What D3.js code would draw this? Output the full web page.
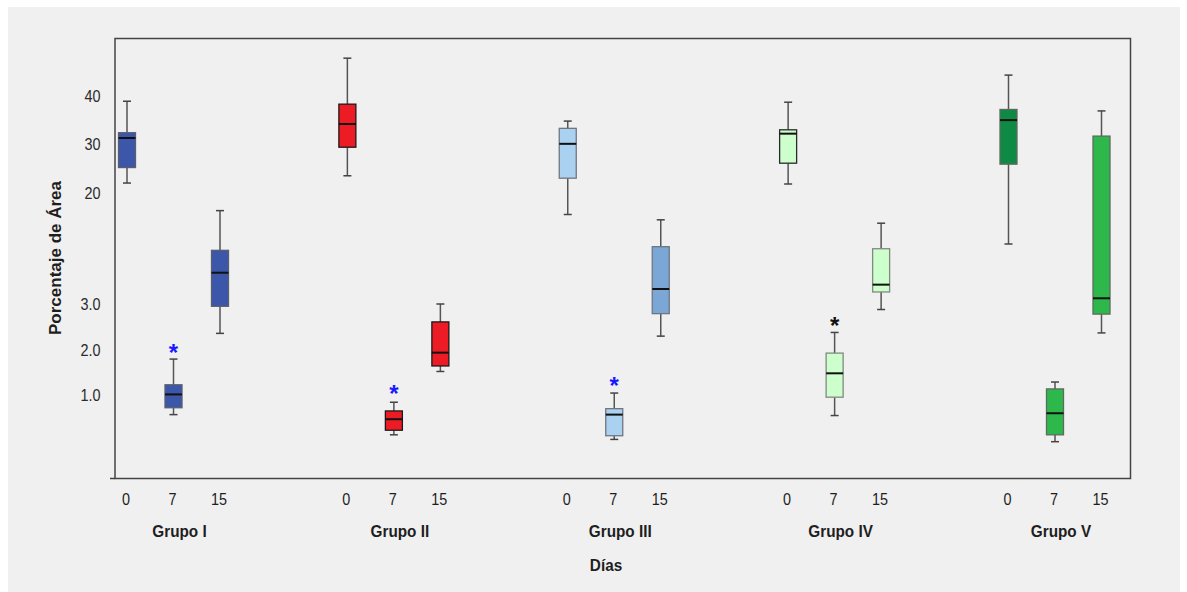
<!DOCTYPE html>
<html>
<head>
<meta charset="utf-8">
<script src="https://cdn.jsdelivr.net/npm/d3@7/dist/d3.min.js"></script>
<style>
  html, body { margin: 0; padding: 0; background: #ffffff; }
  svg { display: block; font-family: "Liberation Sans", Arial, sans-serif; }
</style>
</head>
<body>
<svg id="chart" width="1187" height="592"></svg>
<script>
// ---- data ----------------------------------------------------------
const groups = ["Grupo I", "Grupo II", "Grupo III", "Grupo IV", "Grupo V"];
const days = ["0", "7", "15"];

// one row per group, one entry per day (0, 7, 15)
const whiskerHigh = [
  [39.0, 1.80, 16.4],
  [47.9, 0.86, 3.00],
  [34.9, 1.06, 14.5],
  [38.8, 2.38, 13.8],
  [44.4, 1.30, 37.0]
];
const quartile3 = [
  [32.5, 1.24, 9.02],
  [38.4, 0.67, 2.61],
  [33.4, 0.72, 9.43],
  [33.1, 1.93, 9.20],
  [37.3, 1.15, 31.8]
];
const medians = [
  [31.4, 1.03, 6.51],
  [34.3, 0.49, 1.94],
  [30.2, 0.59, 4.68],
  [32.3, 1.49, 5.17],
  [35.1, 0.62, 3.64]
];
const quartile1 = [
  [25.3, 0.74, 2.95],
  [29.5, 0.25, 1.65],
  [23.1, 0.13, 2.79],
  [26.2, 0.97, 4.35],
  [26.0, 0.15, 2.78]
];
const whiskerLow = [
  [22.1, 0.59, 2.36],
  [23.6, 0.15, 1.53],
  [15.6, 0.05, 2.30],
  [21.9, 0.57, 2.88],
  [9.73, 0.00, 2.37]
];
// extreme values flagged with an asterisk (null = none)
const extremes = [
  [null, 2.03, null],
  [null, 1.13, null],
  [null, 1.31, null],
  [null, 2.61, null],
  [null, null, null]
];

const yTickValues = [1, 2, 3, 20, 30, 40];
const yTickLabels = ["1.0", "2.0", "3.0", "20", "30", "40"];

// ---- styles --------------------------------------------------------
const boxFill = [
  ["#3c56aa", "#3c56aa", "#3c56aa"],
  ["#ed1c24", "#ed1c24", "#ed1c24"],
  ["#abd1f0", "#abd1f0", "#7aa7d6"],
  ["#ccffcc", "#ccffcc", "#ccffcc"],
  ["#0f8a45", "#2eb84b", "#2eb84b"]
];
const boxStroke = [
  ["#5a5f70", "#5a5f70", "#5a5f70"],
  ["#1a1a1a", "#1a1a1a", "#1a1a1a"],
  ["#6f7680", "#6f7680", "#6f7680"],
  ["#2a2a2a", "#808a80", "#808a80"],
  ["#5c6b60", "#5c6b60", "#5c6b60"]
];
const extremeColor = ["#1a1aff", "#1a1aff", "#1a1aff", "#111111", "#111111"];
const textColor = "#1e1e1e";
const squeeze = 0.9;   // narrow letterforms used for every label

// ---- layout --------------------------------------------------------
const svg = d3.select("#chart");
const frame = { left: 115, top: 38.5, right: 1130.5, bottom: 478.5 };

svg.append("rect")
  .attr("x", 8).attr("y", 7).attr("width", 1172).attr("height", 585)
  .attr("fill", "#f0f0f0");

// broken value axis: fine scale for 0-3, compressed span to 10, coarse above
const y = d3.scaleLinear()
  .domain([0, 3, 10, 40])
  .range([441.7, 304, 241.6, 96.4]);

const xGroup = d3.scalePoint().domain(groups).range([173.5, 1055]);
const xDay = d3.scalePoint().domain(days).range([-46.5, 46.5]);
const boxWidth = 17;
const capWidth = 8;

// narrow text helper
function label(parent, x, yPos, txt, size, bold, anchor) {
  return parent.append("text")
    .attr("transform", `translate(${x},${yPos}) scale(${squeeze},1)`)
    .attr("text-anchor", anchor || "middle")
    .attr("font-size", size)
    .attr("font-weight", bold ? "bold" : "normal")
    .attr("fill", textColor)
    .text(txt);
}

// y axis labels
const yAxis = d3.axisLeft(y)
  .tickValues(yTickValues)
  .tickFormat((d, i) => yTickLabels[i])
  .tickSize(0)
  .tickPadding(16);
const gy = svg.append("g")
  .attr("transform", `translate(${frame.left},0)`)
  .call(yAxis);
gy.select(".domain").remove();
gy.selectAll("text")
  .attr("font-size", 16)
  .attr("font-family", "Liberation Sans, Arial, sans-serif")
  .attr("fill", "#2a2a2a")
  .attr("transform", `scale(${squeeze},1)`);

// boxes
const cells = [];
groups.forEach((g, gi) => {
  days.forEach((d, di) => {
    cells.push({
      g, d, gi, di,
      hi: whiskerHigh[gi][di], q3: quartile3[gi][di], med: medians[gi][di],
      q1: quartile1[gi][di], lo: whiskerLow[gi][di], ext: extremes[gi][di]
    });
  });
});

const cx = c => xGroup(c.g) + xDay(c.d);

const box = svg.append("g").selectAll("g").data(cells).join("g");

// whiskers
box.append("line")
  .attr("x1", cx).attr("x2", cx)
  .attr("y1", c => y(c.hi)).attr("y2", c => y(c.q3))
  .attr("stroke", "#555").attr("stroke-width", 1.5);
box.append("line")
  .attr("x1", cx).attr("x2", cx)
  .attr("y1", c => y(c.q1)).attr("y2", c => y(c.lo))
  .attr("stroke", "#555").attr("stroke-width", 1.5);
box.append("line")
  .attr("x1", c => cx(c) - capWidth / 2).attr("x2", c => cx(c) + capWidth / 2)
  .attr("y1", c => y(c.hi)).attr("y2", c => y(c.hi))
  .attr("stroke", "#444").attr("stroke-width", 1.5);
box.append("line")
  .attr("x1", c => cx(c) - capWidth / 2).attr("x2", c => cx(c) + capWidth / 2)
  .attr("y1", c => y(c.lo)).attr("y2", c => y(c.lo))
  .attr("stroke", "#444").attr("stroke-width", 1.5);

// interquartile box
box.append("rect")
  .attr("x", c => cx(c) - boxWidth / 2)
  .attr("width", boxWidth)
  .attr("y", c => y(c.q3))
  .attr("height", c => y(c.q1) - y(c.q3))
  .attr("fill", c => boxFill[c.gi][c.di])
  .attr("stroke", c => boxStroke[c.gi][c.di])
  .attr("stroke-width", 1.3);

// median
box.append("line")
  .attr("x1", c => cx(c) - boxWidth / 2).attr("x2", c => cx(c) + boxWidth / 2)
  .attr("y1", c => y(c.med)).attr("y2", c => y(c.med))
  .attr("stroke", "#111").attr("stroke-width", 2);

// extreme markers
svg.append("g").selectAll("text")
  .data(cells.filter(c => c.ext !== null))
  .join("text")
  .attr("x", cx)
  .attr("y", c => y(c.ext) + 12)
  .attr("text-anchor", "middle")
  .attr("font-size", 24)
  .attr("font-weight", "bold")
  .attr("fill", c => extremeColor[c.gi])
  .text("*");

// plot frame and baseline
svg.append("rect")
  .attr("x", frame.left).attr("y", frame.top)
  .attr("width", frame.right - frame.left).attr("height", frame.bottom - frame.top)
  .attr("fill", "none").attr("stroke", "#444").attr("stroke-width", 1.5);
svg.append("line")
  .attr("x1", 110).attr("x2", frame.left)
  .attr("y1", frame.bottom).attr("y2", frame.bottom)
  .attr("stroke", "#444").attr("stroke-width", 1.5);

// category labels
const gLabels = svg.append("g");
cells.forEach(c => label(gLabels, cx(c) - 1, 505, c.d, 16, false));
groups.forEach(g => label(gLabels, xGroup(g) + 6, 537, g, 17, true));
label(gLabels, 606, 571, "Días", 17, true);

svg.append("text")
  .attr("transform", "translate(61,258) rotate(-90)")
  .attr("text-anchor", "middle")
  .attr("font-size", 17)
  .attr("font-weight", "bold")
  .attr("fill", textColor)
  .text("Porcentaje de Área");
</script>
</body>
</html>
